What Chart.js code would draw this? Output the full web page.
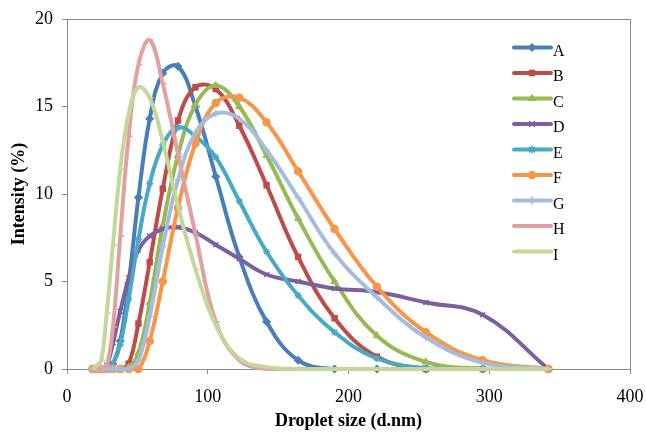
<!DOCTYPE html>
<html>
<head>
<meta charset="utf-8">
<script src="https://cdn.jsdelivr.net/npm/chart.js@4.4.0/dist/chart.umd.min.js"></script>
<style>
    html, body { margin: 0; padding: 0; background: #fff; }
    #wrap { width: 646px; height: 432px; }
</style>
</head>
<body>
<div id="wrap"><canvas id="dropletChart" width="646" height="432"></canvas></div>
<script>
// tamanhos das gotas (d.nm)
const sizes = [18.17, 21.04, 24.36, 28.21, 32.67, 37.84, 43.82, 50.75, 58.77, 68.06, 78.82,
    91.28, 105.7, 122.4, 141.8, 164.2, 190.1, 220.2, 255.0, 295.3, 342.0];

const seriesA = [0, 0, 0, 0, 0.3, 1.6, 4.9, 9.8, 14.3, 16.9, 17.3, 15.0, 11.0, 6.4, 2.7, 0.5, 0, 0, 0, 0, 0];
const seriesB = [0, 0, 0, 0, 0, 0, 0.3, 2.6, 6.1, 10.3, 14.2, 16.1, 16.0, 13.9, 10.5, 6.4, 2.9, 0.7, 0, 0, 0];
const seriesC = [0, 0, 0, 0, 0, 0, 0.1, 0.9, 3.8, 8.2, 12.2, 15.1, 16.2, 15.0, 12.2, 8.6, 5.0, 1.9, 0.4, 0.03, 0];
const seriesD = [0, 0, 0, 0.2, 1.5, 3.3, 5.2, 6.8, 7.6, 8.0, 8.1, 7.8, 7.1, 6.3, 5.4, 5.0, 4.6, 4.4, 3.8, 3.1, 0];
const seriesE = [0, 0, 0, 0, 0.3, 1.4, 4.0, 7.4, 10.6, 12.8, 13.8, 13.3, 12.1, 9.6, 6.7, 4.2, 2.1, 0.6, 0.05, 0, 0];
const seriesF = [0, 0, 0, 0, 0, 0, 0, 0, 1.6, 5.0, 9.2, 12.9, 15.2, 15.5, 14.1, 11.3, 8.0, 4.7, 2.1, 0.5, 0];
const seriesG = [0, 0, 0, 0, 0, 0, 0, 0.5, 3.0, 7.0, 10.8, 13.5, 14.6, 14.3, 12.5, 9.8, 6.6, 4.1, 1.8, 0.35, 0];
const seriesH = [0, 0, 0.1, 0.2, 2.4, 7.6, 13.3, 17.4, 18.8, 16.3, 12.3, 7.7, 2.7, 0.5, 0, 0, 0, 0, 0, 0, 0];
const seriesI = [0, 0.2, 0.5, 3.2, 7.1, 11.4, 14.6, 16.1, 15.5, 13.0, 9.3, 5.7, 2.5, 0.6, 0.1, 0, 0, 0, 0, 0, 0];

const seriesLabels = ['A', 'B', 'C', 'D', 'E', 'F', 'G', 'H', 'I'];
const seriesColors = ['#4a7ebb', '#be4b48', '#98b954', '#7d5fa0', '#46aac5', '#f79646', '#a5bddd', '#e0a2a0', '#c4d79b'];
const seriesMarkers = ['rectRot', 'rect', 'triangle', 'crossRot', 'star', 'circle', 'cross', 'dash', 'dash'];
const seriesValues = [seriesA, seriesB, seriesC, seriesD, seriesE, seriesF, seriesG, seriesH, seriesI];

const serif = "'Liberation Serif', 'Times New Roman', serif";

// legenda desenhada dentro da área do gráfico
const insideLegend = {
    id: 'insideLegend',
    afterDraw(chart) {
        const ctx = chart.ctx;
        ctx.save();
        chart.data.datasets.forEach((ds, i) => {
            const y = 47.5 + i * 25.5;
            ctx.strokeStyle = ds.borderColor;
            ctx.fillStyle = ds.borderColor;
            ctx.lineWidth = 4;
            ctx.lineCap = 'round';
            ctx.beginPath();
            ctx.moveTo(514, y);
            ctx.lineTo(551, y);
            ctx.stroke();
            ctx.lineWidth = 1.5;
            Chart.helpers.drawPoint(ctx, {
                pointStyle: ds.pointStyle, radius: ds.pointRadius, rotation: 0, borderWidth: 1.5
            }, 532, y);
            ctx.fillStyle = '#000';
            ctx.font = '16px ' + serif;
            ctx.textAlign = 'left';
            ctx.textBaseline = 'alphabetic';
            ctx.fillText(ds.label, 553, y + 8);
        });
        ctx.restore();
    }
};

// moldura cinza em volta da área de plotagem
const plotFrame = {
    id: 'plotFrame',
    beforeDatasetsDraw(chart) {
        const a = chart.chartArea;
        const ctx = chart.ctx;
        ctx.save();
        ctx.strokeStyle = '#8c8c8c';
        ctx.lineWidth = 1;
        ctx.strokeRect(Math.round(a.left) + 0.5, Math.round(a.top) + 0.5, a.right - a.left, a.bottom - a.top);
        ctx.restore();
    }
};

function buildDatasets() {
    return seriesValues.map((vals, i) => ({
        label: seriesLabels[i],
        data: vals.map((v, k) => ({ x: sizes[k], y: v })),
        borderColor: seriesColors[i],
        backgroundColor: seriesColors[i],
        pointBorderColor: seriesColors[i],
        pointBackgroundColor: seriesColors[i],
        pointStyle: seriesMarkers[i],
        pointRadius: seriesMarkers[i] === 'dash' ? 4 : 3.5,
        pointBorderWidth: 1.5,
        borderWidth: 4,
        tension: 0.4,
        cubicInterpolationMode: 'default',
        fill: false,
        clip: false,
        order: 9 - i,
    }));
}

const ctx = document.querySelector('#dropletChart').getContext('2d');
const dropletChart = new Chart(ctx, {
    type: 'line',
    data: { datasets: buildDatasets() },
    options: {
        responsive: false,
        animation: false,
        events: [],
        layout: { padding: { left: 0, top: 19, right: 16, bottom: 0 } },
        plugins: { legend: { display: false }, tooltip: { enabled: false } },
        scales: {
            x: {
                type: 'linear',
                min: 0, max: 400,
                ticks: { stepSize: 100, color: '#000', padding: 12, font: { family: serif, size: 18 } },
                grid: { drawOnChartArea: false, drawTicks: true, tickLength: 5, color: '#8c8c8c' },
                border: { color: '#8c8c8c' },
                title: {
                    display: true, text: 'Droplet size (d.nm)', color: '#000',
                    font: { family: serif, size: 18, weight: 'bold' }, padding: { top: 0, bottom: 0 }
                },
                afterFit: s => { s.height = 63; s.paddingLeft = 0; s.paddingRight = 0; }
            },
            y: {
                min: 0, max: 20,
                ticks: { stepSize: 5, color: '#000', padding: 9, font: { family: serif, size: 18 } },
                grid: { drawOnChartArea: false, drawTicks: true, tickLength: 5, color: '#8c8c8c' },
                border: { color: '#8c8c8c' },
                title: {
                    display: true, text: 'Intensity (%)', color: '#000',
                    font: { family: serif, size: 18, weight: 'bold' }, padding: { top: 9, bottom: 0 }
                },
                afterFit: s => { s.width = 67; s.paddingTop = 0; s.paddingBottom = 0; }
            }
        }
    },
    plugins: [plotFrame, insideLegend]
});
</script>
</body>
</html>
